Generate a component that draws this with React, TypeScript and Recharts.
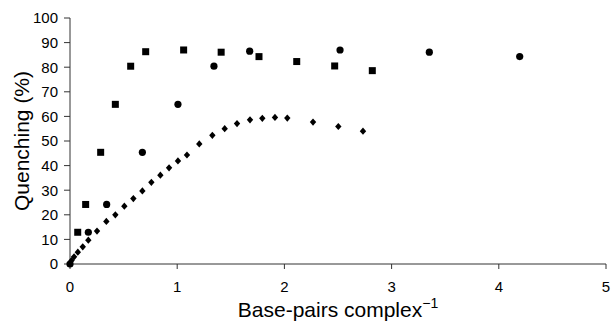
import { ScatterChart, Scatter, XAxis, YAxis, Label } from "recharts"

const FONT = "'Liberation Sans', Arial, Helvetica, sans-serif"

// squares
const squareX = [0.072, 0.146, 0.286, 0.423, 0.566, 0.706, 1.06, 1.41, 1.763, 2.115, 2.469, 2.82]
const squareY = [12.9, 24.2, 45.4, 64.9, 80.4, 86.3, 87.0, 86.1, 84.3, 82.3, 80.5, 78.6]

// circles
const circleX = [0, 0.171, 0.342, 0.675, 1.007, 1.343, 1.676, 2.519, 3.352, 4.195]
const circleY = [0, 12.9, 24.2, 45.4, 64.9, 80.4, 86.5, 87.0, 86.1, 84.3]

// diamonds
const diamondX = [
  0, 0.014, 0.038, 0.073, 0.119, 0.171, 0.252, 0.339, 0.423, 0.507, 0.591, 0.675, 0.759, 0.843,
  0.924, 1.007, 1.091, 1.206, 1.328, 1.443, 1.558, 1.679, 1.794, 1.912, 2.027, 2.267, 2.503, 2.733,
]
const diamondY = [
  0, 1.4, 2.9, 4.8, 7.0, 9.7, 13.4, 17.3, 20.0, 23.5, 26.6, 29.7, 33.2, 36.1,
  39.1, 41.9, 44.3, 48.8, 52.3, 55.0, 57.1, 58.6, 59.2, 59.6, 59.3, 57.7, 55.9, 54.0,
]

const xTicks = [0, 1, 2, 3, 4, 5]
const yTicks = [0, 10, 20, 30, 40, 50, 60, 70, 80, 90, 100]

const pairs = (xs: number[], ys: number[]) => xs.map((x, i) => ({ x, y: ys[i] }))

const squares = pairs(squareX, squareY)
const circles = pairs(circleX, circleY)
const diamonds = pairs(diamondX, diamondY)

const Square = (p: any) => <rect x={p.cx - 3.5} y={p.cy - 3.5} width={7} height={7} fill="#000" />
const Dot = (p: any) => <circle cx={p.cx} cy={p.cy} r={3.6} fill="#000" />
const Diamond = (p: any) => (
  <polygon
    points={`${p.cx},${p.cy - 3.6} ${p.cx + 3.2},${p.cy} ${p.cx},${p.cy + 3.6} ${p.cx - 3.2},${p.cy}`}
    fill="#000"
  />
)

const XTitle = (props: any) => {
  const vb = props.viewBox
  const cx = vb.x + vb.width / 2
  return (
    <text x={cx} y={317} textAnchor="middle" fontFamily={FONT} fontSize={21} fill="#000">
      Base-pairs complex
      <tspan fontSize={14} dy={-9}>−1</tspan>
    </text>
  )
}

const YTitle = (props: any) => {
  const vb = props.viewBox
  const cy = vb.y + vb.height / 2
  return (
    <text
      x={29}
      y={cy}
      textAnchor="middle"
      fontFamily={FONT}
      fontSize={21}
      fill="#000"
      transform={`rotate(-90 29 ${cy})`}
    >
      Quenching (%)
    </text>
  )
}

export default function App() {
  return (
    <div style={{ position: "absolute", left: 0, top: 0, background: "#fff" }}>
      <ScatterChart width={613} height={322} margin={{ top: 18, right: 7, bottom: 0, left: 0 }}>
        <XAxis
          type="number"
          dataKey="x"
          domain={[0, 5]}
          ticks={xTicks}
          height={58}
          tickSize={5}
          tickMargin={12}
          stroke="#333"
          tick={{ fill: "#000", fontSize: 15, fontFamily: FONT }}
        >
          <Label content={<XTitle />} />
        </XAxis>
        <YAxis
          type="number"
          dataKey="y"
          domain={[0, 100]}
          ticks={yTicks}
          width={70}
          tickSize={6}
          tickMargin={6}
          stroke="#333"
          tick={{ fill: "#000", fontSize: 15, fontFamily: FONT }}
        >
          <Label content={<YTitle />} />
        </YAxis>
        <Scatter data={squares} shape={Square} isAnimationActive={false} />
        <Scatter data={circles} shape={Dot} isAnimationActive={false} />
        <Scatter data={diamonds} shape={Diamond} isAnimationActive={false} />
      </ScatterChart>
    </div>
  )
}
